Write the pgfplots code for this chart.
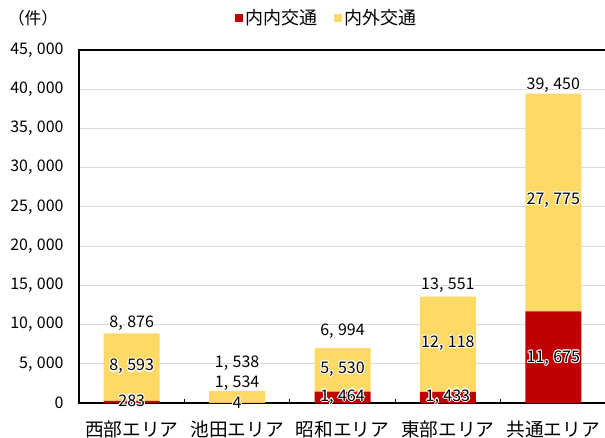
\documentclass[border=0pt]{standalone}
\usepackage{pgfplots}
\pgfplotsset{compat=1.18}
\usepackage{pgfplotstable}
\usepackage{fontspec}
\setmainfont{Noto Sans CJK JP}
\definecolor{cred}{HTML}{C00000}
\definecolor{cyel}{HTML}{FFD966}
\definecolor{cgrid}{HTML}{D9D9D9}
\newcommand\wc[3]{\rlap{\kern#1\raisebox{#2}{\textcolor{white}{#3}}}}
\newcommand\glow[1]{\leavevmode\wc{0.8pt}{0pt}{#1}\wc{-0.8pt}{0pt}{#1}\wc{0pt}{0.8pt}{#1}\wc{0pt}{-0.8pt}{#1}\wc{0.6pt}{0.6pt}{#1}\wc{-0.6pt}{0.6pt}{#1}\wc{0.6pt}{-0.6pt}{#1}\wc{-0.6pt}{-0.6pt}{#1}#1}
\pgfplotsset{/pgf/number format/assume math mode=true,
  /pgf/number format/1000 sep={,\hspace{0.28em}}}
\pgfplotstableread{
x inner outer
0 283 8593
1 4 1534
2 1464 5530
3 1433 12118
4 11675 27775
}\bars
\pgfplotstableread{
x y v
0 250 283
0 4630 8593
0 10160 8876
1 0 4
1 2550 1534
1 5100 1538
2 800 1464
2 4290 5530
2 9090 6994
3 800 1433
3 7610 12118
3 15040 13551
4 5700 11675
4 25880 27775
4 40540 39450
}\labs
\begin{document}
\begin{tikzpicture}
\begin{axis}[at={(59.25pt,25.5pt)}, anchor=south west, scale only axis,
  width=395.25pt, height=264.75pt,
  ybar stacked, bar width=42pt,
  xmin=-0.5, xmax=4.5, ymin=0, ymax=45000,
  xtick={0,...,4},
  xticklabels={西部エリア,池田エリア,昭和エリア,東部エリア,共通エリア},
  minor xtick={0.5,1.5,2.5,3.5},
  xtick pos=bottom, ytick pos=left,
  ytick={0,5000,...,45000}, scaled y ticks=false,
  ymajorgrids, grid style={cgrid, line width=0.75pt},
  major tick length=0pt, minor tick length=3pt, tick align=inside,
  tick style={black, line width=0.75pt},
  axis line style={black, line width=1.2pt},
  yticklabel style={font=\fontsize{12}{12}\selectfont, xshift=-8pt},
  xticklabel style={font=\fontsize{14}{14}\selectfont, yshift=-10pt},
  legend style={at={(0.471,1.09)}, anchor=center, draw=none, fill=none,
    legend columns=2, font=\fontsize{13.5}{13.5}\selectfont,
    /tikz/every even column/.append style={column sep=10pt}},
]
\addplot[fill=cred, draw=none,
  legend image code/.code={\fill[cred] (0pt,-3pt) rectangle (6pt,3pt);}]
  table[x=x,y=inner]{\bars};
\addlegendentry{内内交通}
\addplot[fill=cyel, draw=none,
  legend image code/.code={\fill[cyel] (0pt,-3pt) rectangle (6pt,3pt);}]
  table[x=x,y=outer]{\bars};
\addlegendentry{内外交通}
\end{axis}
\begin{axis}[at={(59.25pt,25.5pt)}, anchor=south west, scale only axis,
  width=395.25pt, height=264.75pt,
  xmin=-0.5, xmax=4.5, ymin=0, ymax=45000, hide axis, clip=false]
\addplot[draw=none, mark=none, point meta=explicit,
  nodes near coords={\glow{\pgfmathprintnumber{\pgfplotspointmeta}}},
  nodes near coords align=center,
  every node near coord/.append style={font=\fontsize{12}{12}\selectfont, text=black, inner sep=0pt}]
  table[x=x,y=y,meta=v]{\labs};
\end{axis}
\node[font=\fontsize{12.5}{12.5}\selectfont] at (24.75pt,314.25pt) {（件）};
\pgfresetboundingbox
\useasboundingbox (0,0) rectangle (453.75pt,327.75pt);
\end{tikzpicture}
\end{document}
